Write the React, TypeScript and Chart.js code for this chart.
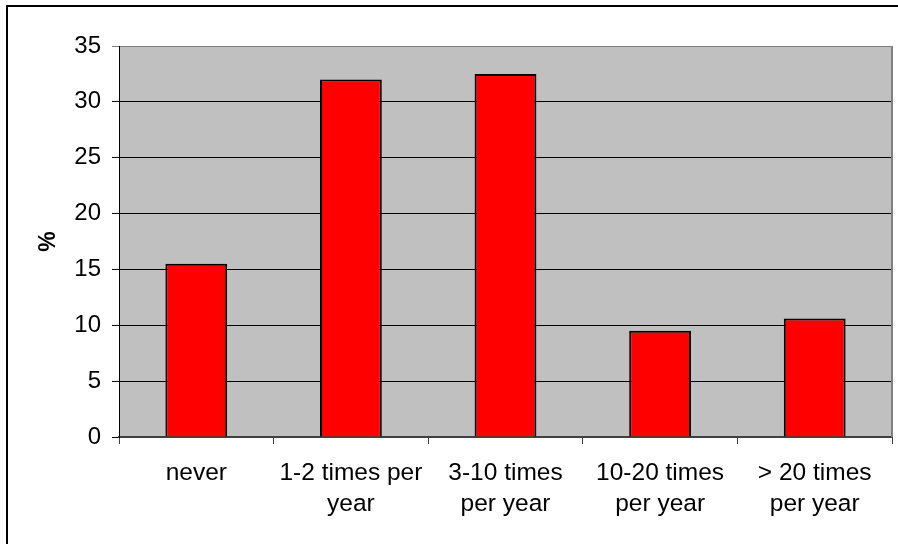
import React, { useEffect, useRef } from "react";
import { Chart, registerables } from "chart.js";

Chart.register(...registerables);

const categories: string[][] = [
  ["never"],
  ["1-2 times per", "year"],
  ["3-10 times", "per year"],
  ["10-20 times", "per year"],
  ["> 20 times", "per year"],
];
const percentages: number[] = [15.5, 32.0, 32.5, 9.5, 10.6];
const yMin = 0;
const yMax = 35;
const yStep = 5;
const yTitle = "%";

const FONT = "'Liberation Sans', Arial, Helvetica, sans-serif";

// Grey plot area, grey frame on top/right, and the outer chart border.
const framePlugin = {
  id: "frame",
  beforeDraw(chart: any) {
    const { ctx, chartArea } = chart;
    ctx.save();
    ctx.fillStyle = "#ffffff";
    ctx.fillRect(0, 0, chart.width, chart.height);
    ctx.fillStyle = "#000000";
    ctx.fillRect(6, 5, chart.width, 2);
    ctx.fillRect(6, 5, 2, chart.height);
    ctx.fillStyle = "#c0c0c0";
    ctx.fillRect(chartArea.left, chartArea.top, chartArea.right - chartArea.left, chartArea.bottom - chartArea.top);
    ctx.restore();
  },
  beforeDatasetsDraw(chart: any) {
    const { ctx, chartArea } = chart;
    ctx.save();
    ctx.strokeStyle = "#808080";
    ctx.lineWidth = 2;
    ctx.beginPath();
    ctx.moveTo(chartArea.right, chartArea.top);
    ctx.lineTo(chartArea.right, chartArea.bottom);
    ctx.stroke();
    ctx.restore();
  },
};

export default function App() {
  const ref = useRef<HTMLCanvasElement>(null);

  useEffect(() => {
    if (!ref.current) return;
    const chart = new Chart(ref.current, {
      type: "bar",
      data: {
        labels: categories,
        datasets: [
          {
            data: percentages,
            backgroundColor: "#ff0000",
            borderColor: "#000000",
            borderWidth: 2,
            categoryPercentage: 1,
            barPercentage: 0.4,
          },
        ],
      },
      options: {
        responsive: false,
        animation: false,
        layout: { padding: { top: 46, right: 6, left: 0, bottom: 0 } },
        plugins: {
          legend: { display: false },
          tooltip: { enabled: false },
        },
        scales: {
          x: {
            offset: true,
            grid: {
              offset: true,
              drawOnChartArea: false,
              tickLength: 7,
              color: "#404040",
            },
            border: { color: "#404040", width: 2 },
            ticks: {
              color: "#000000",
              padding: 14,
              maxRotation: 0,
              autoSkip: false,
              font: { family: FONT, size: 24.5, lineHeight: 1.27 },
            },
            afterFit(scale: any) {
              scale.height = 107;
            },
          },
          y: {
            min: yMin,
            max: yMax,
            ticks: {
              stepSize: yStep,
              color: "#000000",
              padding: 11,
              font: { family: FONT, size: 24 },
            },
            grid: {
              tickLength: 7,
              lineWidth: 1,
              color: (ctx: any) => (ctx.tick && ctx.tick.value === yMax ? "#808080" : "#000000"),
            },
            border: { color: "#000000", width: 1 },
            title: {
              display: true,
              text: yTitle,
              color: "#000000",
              padding: { top: 35, bottom: 0 },
              font: { family: FONT, size: 23, weight: "bold" },
            },
            afterFit(scale: any) {
              scale.width = 119;
            },
          },
        },
      },
      plugins: [framePlugin],
    });
    return () => chart.destroy();
  }, []);

  return (
    <div style={{ position: "absolute", left: 0, top: 0, width: 898, height: 544 }}>
      <canvas ref={ref} width={898} height={544} style={{ width: 898, height: 544, display: "block" }} />
    </div>
  );
}
